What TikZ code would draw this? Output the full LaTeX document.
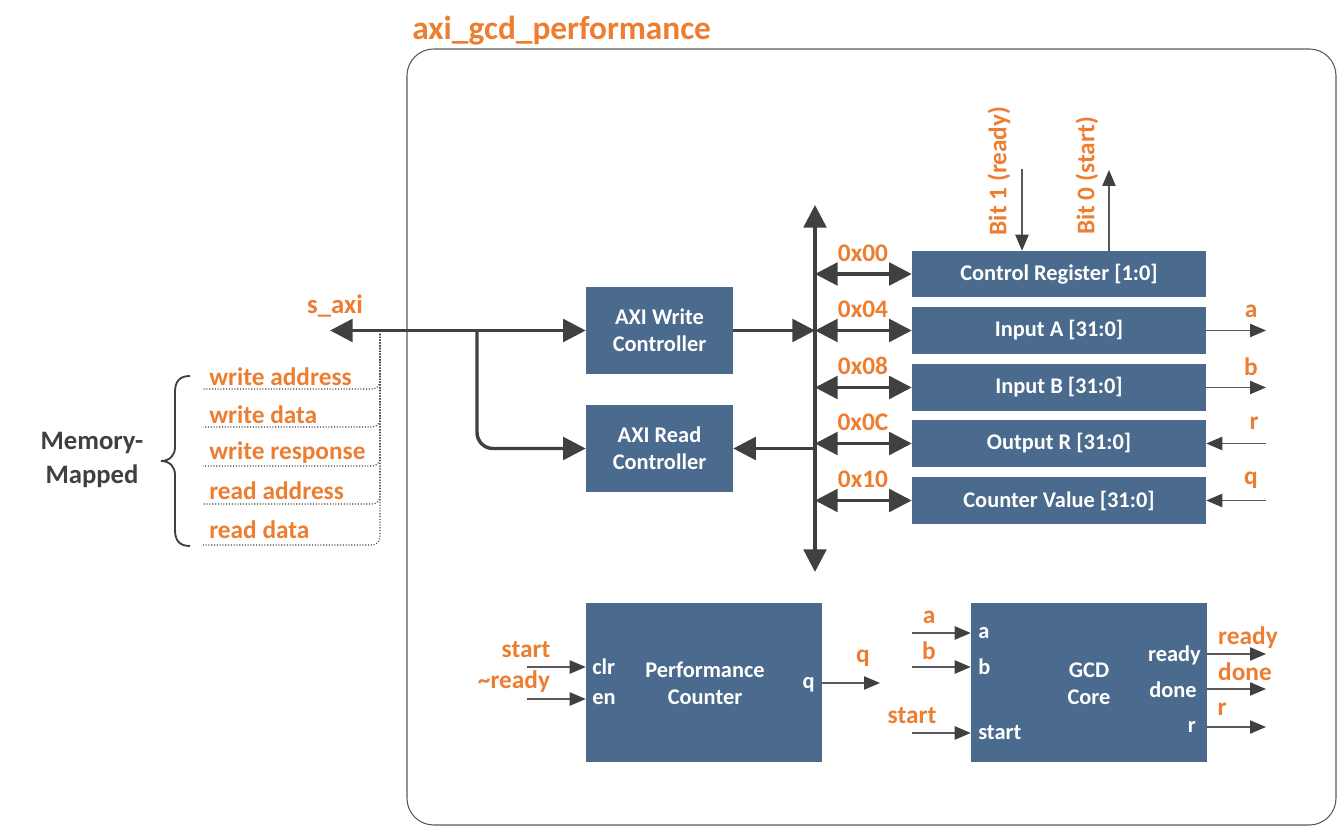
\documentclass[tikz,border=0pt]{standalone}
\usepackage{fontspec}
\setmainfont{Carlito}
\usetikzlibrary{arrows.meta}
\definecolor{blk}{HTML}{4A6A8E}
\definecolor{org}{HTML}{ED7D31}
\definecolor{dk}{HTML}{404040}
\definecolor{ln}{HTML}{595959}
\begin{document}
\begin{tikzpicture}[x=0.75pt,y=-0.75pt,
  box/.style 2 args={minimum width=#1*0.75pt, minimum height=#2*0.75pt},
  block/.style={fill=blk, draw=none, text=white, inner sep=0pt, align=center,
    font=\bfseries\fontsize{16.8}{20}\selectfont},
  port/.style={text=white, inner sep=0pt, font=\bfseries\fontsize{16.8}{20}\selectfont},
  lbl/.style={text=org, inner sep=0pt, font=\bfseries\fontsize{19}{22}\selectfont},
  bus/.style={draw=dk, line width=2.6pt, {Triangle[length=17pt,width=17pt]}-{Triangle[length=17pt,width=17pt]}},
  busR/.style={draw=dk, line width=2.6pt, -{Triangle[length=17pt,width=17pt]}},
  sig/.style={draw=ln, line width=1pt, -{Triangle[length=12pt,width=10pt,color=dk]}},
  dots/.style={draw=dk, line width=0.8pt, dash pattern=on 0.8pt off 1.3pt}
]
\useasboundingbox (0,0) rectangle (1340,827);

% title and container
\node[lbl, anchor=west, font=\bfseries\fontsize{25}{29}\selectfont] (title) at (412,31) {axi\_gcd\_performance};
\draw[ln, line width=0.8pt, rounded corners=20] (407,49) rectangle (1336,825);

% blocks
\node[block, box={147}{87}] (wr) at (659.5,330.5) {AXI Write\\Controller};
\node[block, box={147}{87}] (rd) at (659.5,448.5) {AXI Read\\Controller};
\node[block, box={294}{46}] (cr) at (1059,274) {Control Register [1:0]};
\node[block, box={294}{47}] (ia) at (1059,330.5) {Input A [31:0]};
\node[block, box={294}{47}] (ib) at (1059,387.5) {Input B [31:0]};
\node[block, box={294}{47}] (orr) at (1059,443.5) {Output R [31:0]};
\node[block, box={294}{47}] (cv) at (1059,500.5) {Counter Value [31:0]};
\node[block, box={236}{159}] (pc) at (704,682.5) {};
\node[block, box={236}{159}] (gcd) at (1089,682.5) {};
\node[port, align=center] (pct) at (705,683.5) {Performance\\Counter};
\node[port, align=center] (gct) at (1089,683.5) {GCD\\Core};

% vertical bus
\coordinate (busT) at (815,205);
\coordinate (busB) at (815,572);
\draw[bus] (busT) -- (busB);
\foreach \n in {cr,ia,ib,orr,cv}{
  \draw[bus] (busT |- \n.west) -- (\n.west);
}
\node[lbl] (a0) at (863,253) {0x00};
\node[lbl] (a4) at (863,309) {0x04};
\node[lbl] (a8) at (863,366) {0x08};
\node[lbl] (ac) at (863,422) {0x0C};
\node[lbl] (a10) at (863,479) {0x10};

\draw[busR] (wr.east) -- (busT |- wr.east);
\draw[busR] (busT |- rd.east) -- (rd.east);

% s_axi
\coordinate (sx) at (330,330.5);
\coordinate (br) at (477,330.5);
\draw[bus] (sx) -- (wr.west);
\draw[busR, rounded corners=12] (br) -- (br |- rd.west) -- (rd.west);
\node[lbl, font=\bfseries\fontsize{20}{24}\selectfont] (saxi) at (335,306) {s\_axi};

% dotted channel lines
\coordinate (dv) at (380,334);
\foreach \y in {389,427,466,504,545}{
  \draw[dots, rounded corners=6] (dv) -- (380,\y) -- (203,\y);
}
\node[lbl, anchor=west] (c1) at (209,377) {write address};
\node[lbl, anchor=west] (c2) at (209,415) {write data};
\node[lbl, anchor=west] (c3) at (209,453) {write response};
\node[lbl, anchor=west] (c4) at (209,491) {read address};
\node[lbl, anchor=west] (c5) at (209,530) {read data};

% brace
\draw[dk, line width=1.4pt] (190,376) .. controls (180,376) and (175,381) .. (175,392) -- (175,447)
  .. controls (175,455) and (170,461) .. (161,461) .. controls (170,461) and (175,467) .. (175,475)
  -- (175,530) .. controls (175,541) and (180,546) .. (190,546);
\node[text=dk, align=center, inner sep=0pt, font=\bfseries\fontsize{20}{25}\selectfont] (mm) at (92,460) {Memory-\\Mapped};

% control register bits
\coordinate (b1) at (1022,169);
\coordinate (b0) at (1109,170);
\draw[sig] (b1) -- (b1 |- cr.north);
\draw[sig] (b0 |- cr.north) -- (b0);
\node[lbl, rotate=90] (b1l) at (999,171) {Bit 1 (ready)};
\node[lbl, rotate=90] (b0l) at (1087,176) {Bit 0 (start)};

% register outputs / inputs
\coordinate (rx) at (1266,0);
\draw[sig] (ia.east) -- (ia.east -| rx);
\draw[sig] (ib.east) -- (ib.east -| rx);
\draw[sig] (orr.east -| rx) -- (orr.east);
\draw[sig] (cv.east -| rx) -- (cv.east);
\node[lbl] (la) at (1251,311) {a};
\node[lbl] (lb) at (1251,367) {b};
\node[lbl] (lr) at (1254,423) {r};
\node[lbl] (lq) at (1251,480) {q};

% performance counter ports
\coordinate (clrS) at (527,667);
\coordinate (enS) at (527,699);
\draw[sig] (clrS) -- (clrS -| pc.west);
\draw[sig] (enS) -- (enS -| pc.west);
\node[lbl] (ps) at (526,650) {start};
\node[lbl] (pr) at (514,682) {\textasciitilde ready};
\node[port, anchor=west] (pclr) at (592,667) {clr};
\node[port, anchor=west] (pen) at (592,699) {en};
\node[port, anchor=east] (pq) at (815,685) {q};
\coordinate (qo) at (880,683);
\draw[sig] (pc.east |- qo) -- (qo);
\node[lbl] (lqo) at (863,658) {q};

% gcd core ports
\coordinate (gi) at (912,0);
\draw[sig] (gi |- 0,633) -- (gcd.west |- 0,633);
\draw[sig] (gi |- 0,667) -- (gcd.west |- 0,667);
\draw[sig] (gi |- 0,733) -- (gcd.west |- 0,733);
\node[lbl] (ga) at (929,617) {a};
\node[lbl] (gb) at (929,651) {b};
\node[lbl] (gs) at (912,716) {start};
\node[port, anchor=west] (gpa) at (978,633) {a};
\node[port, anchor=west] (gpb) at (978,667) {b};
\node[port, anchor=west] (gps) at (978,733) {start};
\draw[sig] (gcd.east |- 0,654) -- (rx |- 0,654);
\draw[sig] (gcd.east |- 0,689) -- (rx |- 0,689);
\draw[sig] (gcd.east |- 0,727) -- (rx |- 0,727);
\node[port, anchor=east] (gpr) at (1201,655) {ready};
\node[port, anchor=east] (gpd) at (1197,690) {done};
\node[port, anchor=east] (gpo) at (1196,727) {r};
\node[lbl] (gor) at (1248,638) {ready};
\node[lbl] (god) at (1245,672) {done};
\node[lbl] (goo) at (1222,709) {r};
\end{tikzpicture}
\end{document}
